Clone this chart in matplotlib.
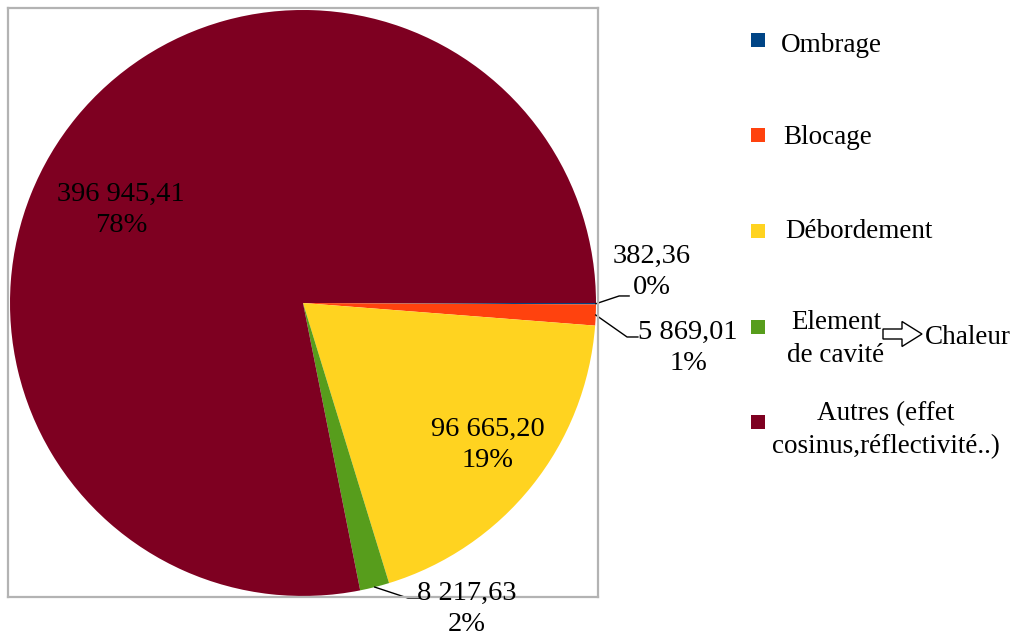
"""Pie chart of optical losses with a hand-built legend."""

import matplotlib

matplotlib.use("Agg")
import matplotlib.pyplot as plt
from matplotlib.patches import FancyArrow, Rectangle
import numpy as np

W, H = 1014, 640

categories = ["Ombrage", "Blocage", "Débordement", "Element de cavité", "Autres"]
values = [382.36, 5869.01, 96665.20, 8217.63, 396945.41]
colors = ["#004586", "#FF420E", "#FFD320", "#579D1C", "#7E0021"]

# label centres (data units, pie radius = 1) and leader elbows (None = inside)
label_pos = [(1.191, 0.106), (1.314, -0.154), (0.631, -0.485), (0.560, -1.044), (-0.621, 0.317)]
elbows = [(1.079, 0.024), (1.106, -0.116), None, (0.358, -1.007), None]
elbow_tail = [0.034, 0.037, 0, 0.041, 0]

plt.rcParams["font.family"] = ["Liberation Serif", "DejaVu Serif"]


def fx(px):
    return px / W


def fy(py):
    return 1 - py / H


def fmt_fr(v):
    s = f"{v:,.2f}"
    return s.replace(",", " ").replace(".", ",")


fig = plt.figure(figsize=(W / 100, H / 100), dpi=100)
ax = fig.add_axes([fx(8), fy(597), fx(598) - fx(8), fy(8) - fy(597)])

wedges, _ = ax.pie(values, colors=colors, startangle=0, counterclock=False,
                   radius=1, wedgeprops=dict(linewidth=0))
ax.set_aspect("auto")
ax.set_xlim((8 - 303) / 293, (598 - 303) / 293)
ax.set_ylim((303 - 597) / 293, (303 - 8) / 293)
ax.set_frame_on(True)
for sp in ax.spines.values():
    sp.set_color("#b3b3b3")
    sp.set_linewidth(1.6)
ax.set_xticks([])
ax.set_yticks([])

total = sum(values)
for w, v, pos, elb, tail in zip(wedges, values, label_pos, elbows, elbow_tail):
    pct = round(100 * v / total)
    ax.text(pos[0], pos[1], f"{fmt_fr(v)}\n{pct}%", ha="center", va="center",
            fontsize=20.5, linespacing=1.3, clip_on=False)
    if elb is not None:
        ang = np.deg2rad((w.theta1 + w.theta2) / 2)
        x0, y0 = np.cos(ang), np.sin(ang)
        ax.plot([x0, elb[0], elb[0] + tail], [y0, elb[1], elb[1]],
                color="black", lw=1, clip_on=False)

# legend
sq = 14
legend_rows = [45, 138, 232, 339, 430]
legend_text = ["Ombrage", "Blocage", "Débordement", "Element\nde cavité", "Autres (effet\ncosinus,réflectivité..)"]
text_x = [781, 783, 785, 836, 886]
text_ha = ["left", "left", "left", "center", "center"]
square_y = [40, 135, 231, 327, 422]
for c, t, y, sy, tx, ha in zip(colors, legend_text, legend_rows, square_y, text_x, text_ha):
    fig.add_artist(Rectangle((fx(751), fy(sy + sq / 2)), sq / W, sq / H,
                             transform=fig.transFigure, facecolor=c, edgecolor="none"))
    fig.text(fx(tx), fy(y), t, ha=ha, va="center", fontsize=19.5, linespacing=1.38)

# hollow arrow to "Chaleur"
fig.add_artist(FancyArrow(fx(883), fy(334), (922 - 883) / W, 0,
                          width=10 / H, head_width=25 / H, head_length=20 / W,
                          length_includes_head=True, transform=fig.transFigure,
                          facecolor="white", edgecolor="black", linewidth=1))
fig.text(fx(925), fy(338), "Chaleur", ha="left", va="center", fontsize=19.5)

fig.savefig("out.png", dpi=100)
